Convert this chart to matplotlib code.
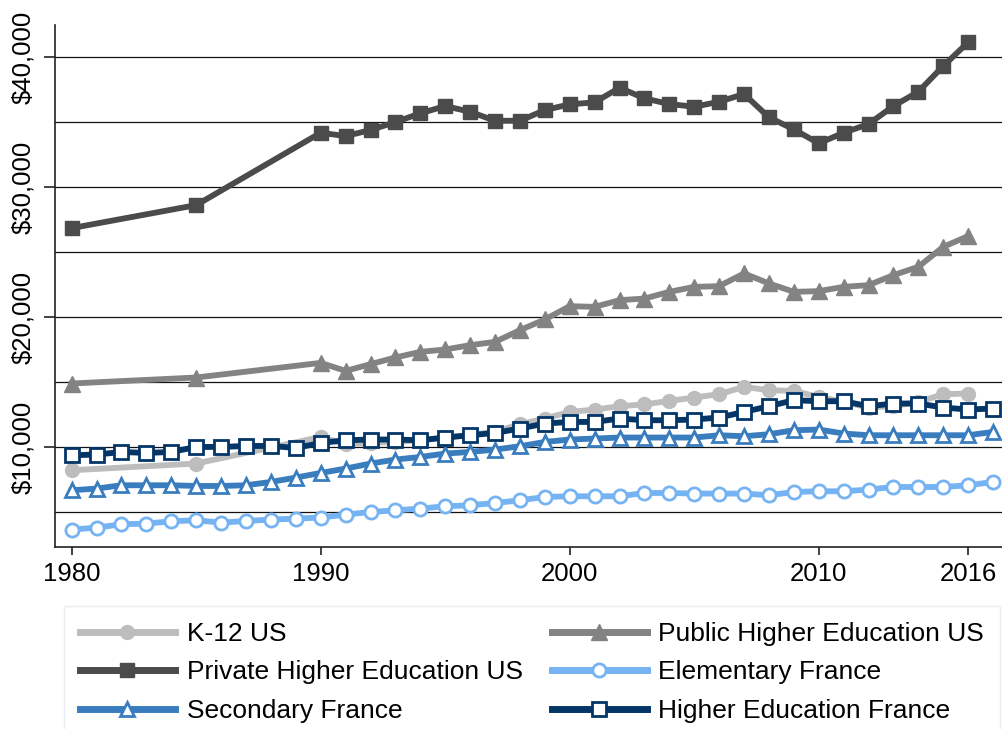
import matplotlib
matplotlib.use("Agg")
import matplotlib.pyplot as plt
from matplotlib.ticker import FuncFormatter

plt.rcParams['font.family'] = ['Liberation Sans', 'DejaVu Sans']

# ---- data -------------------------------------------------------------
us_years = [1980, 1985] + list(range(1990, 2017))
fr_years = list(range(1980, 2018))

k12_us = [8231, 8746, 10792, 10231, 10331, 10408, 10538, 10746, 10950, 11200,
          11769, 12208, 12715, 12900, 13154, 13300, 13562, 13823, 14077, 14638,
          14385, 14331, 13869, 13485, 13054, 13154, 13485, 14077, 14131]
public_he_us = [14900, 15362, 16485, 15869, 16385, 16900, 17331, 17515, 17846, 18100,
                19000, 19823, 20846, 20792, 21308, 21430, 21946, 22331, 22385, 23362,
                22592, 21946, 22000, 22331, 22462, 23231, 23869, 25408, 26231]
private_he_us = [26846, 28615, 34177, 33923, 34385, 35000, 35669, 36231, 35792, 35100,
                 35100, 35923, 36362, 36515, 37638, 36823, 36385, 36177, 36562, 37154,
                 35362, 34438, 33362, 34177, 34846, 36231, 37331, 39308, 41131]
elementary_fr = [3669, 3823, 4077, 4131, 4308, 4385, 4208, 4331, 4438, 4515,
                 4592, 4823, 5023, 5154, 5285, 5462, 5538, 5715, 5923, 6177,
                 6231, 6231, 6231, 6485, 6485, 6438, 6438, 6438, 6308, 6562,
                 6615, 6615, 6746, 6946, 6946, 6946, 7077, 7331]
secondary_fr = [6692, 6823, 7077, 7077, 7077, 7023, 7023, 7077, 7331, 7669,
                8023, 8362, 8746, 9054, 9254, 9515, 9638, 9823, 10077, 10408,
                10592, 10669, 10746, 10746, 10746, 10746, 10923, 10846, 11000, 11308,
                11362, 11054, 10923, 10923, 10923, 10923, 10923, 11177]
higher_ed_fr = [9384, 9438, 9638, 9562, 9638, 10023, 10023, 10100, 10100, 9946,
                10331, 10538, 10592, 10592, 10538, 10746, 10923, 11100, 11438, 11823,
                11946, 11946, 12208, 12077, 12077, 12131, 12285, 12715, 13154, 13615,
                13538, 13538, 13154, 13362, 13362, 13054, 12900, 12977]

x_ticks = [1980, 1990, 2000, 2010, 2016]
y_ticks = [10000, 20000, 30000, 40000]

# ---- figure -----------------------------------------------------------
W, H = 1002, 729
fig = plt.figure(figsize=(W / 100, H / 100), dpi=100)
ax = fig.add_axes([55 / W, 1 - 547 / H, (W - 55) / W, (547 - 25) / H])

lw = 4.2
ax.plot(us_years, k12_us, color='#bdbdbd', lw=lw, marker='o', ms=10,
        mfc='#bdbdbd', mec='#bdbdbd', label='K-12 US', zorder=3)
ax.plot(us_years, public_he_us, color='#838383', lw=lw, marker='^', ms=11,
        mfc='#838383', mec='#838383', label='Public Higher Education US', zorder=3)
ax.plot(us_years, private_he_us, color='#4b4b4b', lw=lw, marker='s', ms=10.5,
        mfc='#4b4b4b', mec='#4b4b4b', label='Private Higher Education US', zorder=3)
ax.plot(fr_years, elementary_fr, color='#76b3f3', lw=lw, marker='o', ms=9.5,
        mfc='white', mec='#76b3f3', mew=2.0, label='Elementary France', zorder=4)
ax.plot(fr_years, secondary_fr, color='#3a7dbf', lw=lw, marker='^', ms=9.5,
        mfc='white', mec='#3a7dbf', mew=2.0, label='Secondary France', zorder=5)
ax.plot(fr_years, higher_ed_fr, color='#033567', lw=lw, marker='s', ms=10,
        mfc='white', mec='#033567', mew=2.0, label='Higher Education France', zorder=6)

ax.set_xlim(1979.33, 2017.36)
ax.set_ylim(2331, 42462)

ax.set_xticks(x_ticks)
ax.set_yticks(y_ticks)
ax.yaxis.set_major_formatter(FuncFormatter(lambda v, p: '${:,.0f}'.format(v)))
for y in range(5000, 45000, 5000):
    ax.axhline(y, color='#111111', lw=0.9, zorder=1)

for s in ['top', 'right']:
    ax.spines[s].set_visible(False)
for s in ['left', 'bottom']:
    ax.spines[s].set_color('#222222')
    ax.spines[s].set_linewidth(1.2)

ax.tick_params(axis='y', length=8, width=1.2, pad=6, labelsize=18.5, color='#222222')
ax.tick_params(axis='x', length=6, width=1.2, pad=5, labelsize=18.5, color='#222222')
for lab in ax.get_yticklabels():
    lab.set_rotation(90)
    lab.set_va('center')

handles, labels = ax.get_legend_handles_labels()
order = [0, 2, 4, 1, 3, 5]
leg = fig.legend([handles[i] for i in order], [labels[i] for i in order],
                 loc='upper left', ncol=2, mode='expand',
                 bbox_to_anchor=(64 / W, 1 - 606 / H, (1000 - 64) / W, 0.0),
                 bbox_transform=fig.transFigure,
                 fontsize=19, frameon=True, fancybox=False, edgecolor='#e3eaee',
                 handlelength=3.6, handletextpad=0.45, labelspacing=0.55,
                 borderpad=0.6, borderaxespad=0, columnspacing=1.0, numpoints=1)
leg.get_frame().set_linewidth(1.0)
for line in leg.get_lines():
    line.set_linewidth(5)

fig.savefig('out.png', dpi=100)
